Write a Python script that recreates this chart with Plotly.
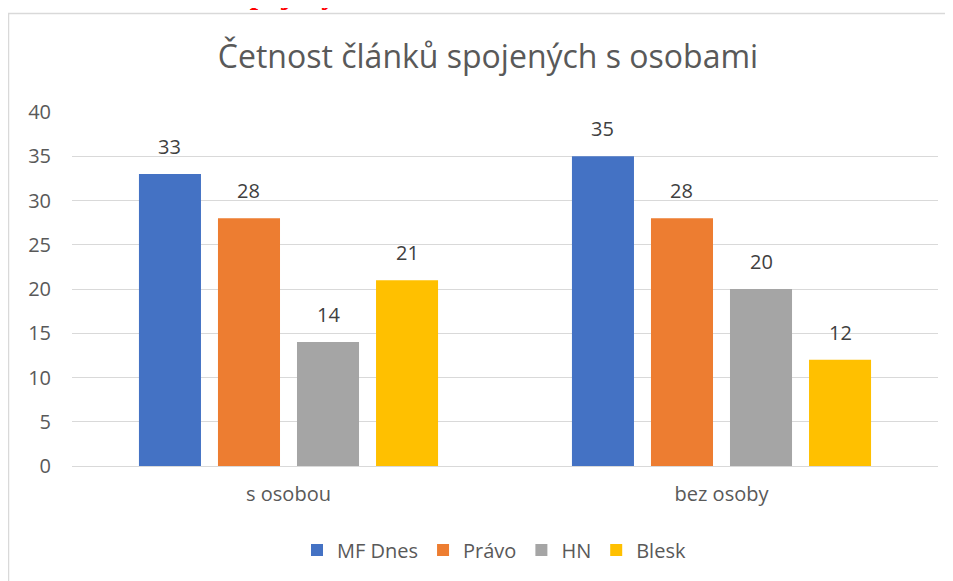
import plotly.graph_objects as go

categories = ["s osobou", "bez osoby"]
series_names = ["MF Dnes", "Právo", "HN", "Blesk"]
values = {
    "MF Dnes": [33, 35],
    "Právo": [28, 28],
    "HN": [14, 20],
    "Blesk": [21, 12],
}
colors = {"MF Dnes": "#4472C4", "Právo": "#ED7D31", "HN": "#A5A5A5", "Blesk": "#FFC000"}
y_ticks = [0, 5, 10, 15, 20, 25, 30, 35, 40]

OFF = 8  # default page body margin in the browser
W, H = 953 - OFF, 581 - OFF
L, R, T, B = 72 - OFF, 15, 112 - OFF, 115
pw, ph = W - L - R, H - T - B
BARGAP, GROUPGAP = 0.27, 0.215

def px(x):
    return (x - OFF - L) / pw

def py(y):
    return (H - B - (y - OFF)) / ph

FONT = "Open Sans, Noto Sans, sans-serif"
FS = 20

fig = go.Figure()
for name in series_names:
    fig.add_trace(go.Bar(
        name=name, x=categories, y=values[name],
        marker=dict(color=colors[name], line=dict(width=0)),
    ))

# data labels placed above each bar, offset within its group
cat_px = pw / len(categories)
slot = cat_px * (1 - BARGAP) / len(series_names)
for i, name in enumerate(series_names):
    shift = (i - (len(series_names) - 1) / 2) * slot
    for c, v in zip(categories, values[name]):
        fig.add_annotation(x=c, y=v, text=str(v), xref="x", yref="y",
                           xshift=shift, yshift=12, yanchor="bottom", showarrow=False,
                           font=dict(size=FS, color="#404040", family=FONT))

fig.update_layout(
    width=W, height=H,
    margin=dict(l=L, r=R, t=T, b=B),
    paper_bgcolor="white", plot_bgcolor="white",
    barmode="group", bargap=BARGAP, bargroupgap=GROUPGAP,
    title=dict(text="Četnost článků spojených s osobami", x=px(488), xanchor="center",
               xref="paper", y=1 - (57 - OFF) / H, yanchor="middle",
               font=dict(size=32, color="#595959", family=FONT)),
    font=dict(family=FONT, color="#595959", size=FS),
    xaxis=dict(showline=True, linecolor="#D9D9D9", linewidth=1, ticks="",
               tickfont=dict(size=FS, color="#595959"), showgrid=False,
               ticklabelstandoff=10),
    yaxis=dict(range=[0, 40], tickvals=y_ticks, showgrid=True, gridcolor="#D9D9D9",
               gridwidth=1, zeroline=False, ticks="", showline=False,
               tickfont=dict(size=FS, color="#595959"), ticklabelstandoff=20),
    legend=dict(orientation="h", x=px(494), xanchor="center", y=py(550), yanchor="middle",
                font=dict(size=FS, color="#595959"), itemwidth=30, traceorder="normal"),
    showlegend=True,
)

# chart border (Excel-style chart area)
fig.add_shape(type="rect", xref="paper", yref="paper",
              x0=px(8.5), x1=px(990), y0=py(620), y1=py(13.5),
              line=dict(color="#D9D9D9", width=1.5), fillcolor="rgba(0,0,0,0)", layer="below")

# cropped red heading fragment at the very top
fig.add_annotation(text="<b>spojených</b>", xref="paper", yref="paper",
                   x=px(236), y=py(12), xanchor="left", yanchor="bottom", showarrow=False,
                   font=dict(family="Liberation Serif", size=30, color="#FF0000"))

fig.write_html("out.html")
